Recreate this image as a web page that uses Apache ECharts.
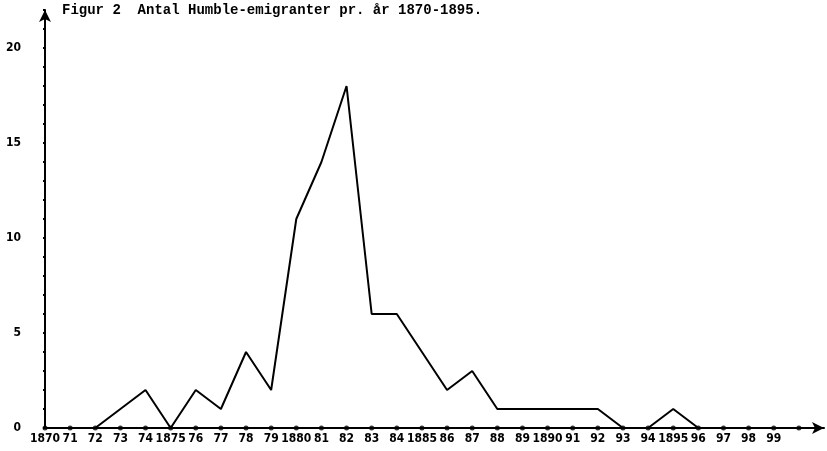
<!DOCTYPE html>
<html>
<head>
<meta charset="utf-8">
<script src="https://cdn.jsdelivr.net/npm/echarts@6/dist/echarts.min.js"></script>
<style>
  html, body { margin: 0; padding: 0; background: #fff; }
  #chart { width: 827px; height: 451px; }
</style>
</head>
<body>
<div id="chart"></div>
<script>
// tick labels on the year axis (last slot only carries the arrow)
const yearLabels = ['1870', '71', '72', '73', '74', '1875', '76', '77', '78', '79',
  '1880', '81', '82', '83', '84', '1885', '86', '87', '88', '89',
  '1890', '91', '92', '93', '94', '1895', '96', '97', '98', '99', '', ''];
// emigrants per year, 1870-1896
const emigrants = [0, 0, 0, 1, 2, 0, 2, 1, 4, 2,
  11, 14, 18, 6, 6, 4, 2, 3, 1, 1,
  1, 1, 1, 0, 0, 1, 0];
// dots marking every year on the axis
const axisDots = yearLabels.slice(0, 31).map(() => 0);

const labelFont = '"DejaVu Sans Condensed", "Liberation Sans", sans-serif';

const chart = echarts.init(document.getElementById('chart'));

chart.setOption({
  animation: false,
  title: {
    text: 'Figur 2  Antal Humble-emigranter pr. år 1870-1895.',
    left: 57,
    top: -2,
    textStyle: {
      fontFamily: 'Liberation Mono',
      fontSize: 14,
      fontWeight: 'bold',
      color: '#000'
    }
  },
  grid: { left: 45, right: 2, top: 10, bottom: 23, containLabel: false },
  xAxis: {
    type: 'category',
    data: yearLabels,
    boundaryGap: false,
    axisLine: {
      lineStyle: { color: '#000', width: 2 },
      symbol: ['none', 'arrow'],
      symbolSize: [9, 12]
    },
    axisTick: { show: false },
    axisLabel: {
      interval: 0,
      margin: 5,
      color: '#000',
      fontFamily: labelFont,
      fontWeight: 'bold',
      fontSize: 12
    },
    splitLine: { show: false }
  },
  yAxis: {
    type: 'value',
    min: 0,
    max: 22,
    interval: 1,
    axisLine: {
      show: true,
      lineStyle: { color: '#000', width: 2 },
      symbol: ['none', 'arrow'],
      symbolSize: [9, 12]
    },
    axisTick: {
      show: true,
      length: 2,
      lineStyle: { color: '#000', width: 2 }
    },
    axisLabel: {
      margin: 24,
      color: '#000',
      fontFamily: labelFont,
      fontWeight: 'bold',
      fontSize: 12,
      formatter: function (v) {
        return v % 5 === 0 && v <= 20 ? v : '';
      }
    },
    splitLine: { show: false }
  },
  series: [
    {
      type: 'line',
      data: emigrants,
      showSymbol: false,
      lineStyle: { color: '#000', width: 2 },
      z: 3
    },
    {
      type: 'scatter',
      data: axisDots,
      symbol: 'circle',
      symbolSize: 5,
      itemStyle: { color: '#000' },
      z: 4
    }
  ]
});
</script>
</body>
</html>
